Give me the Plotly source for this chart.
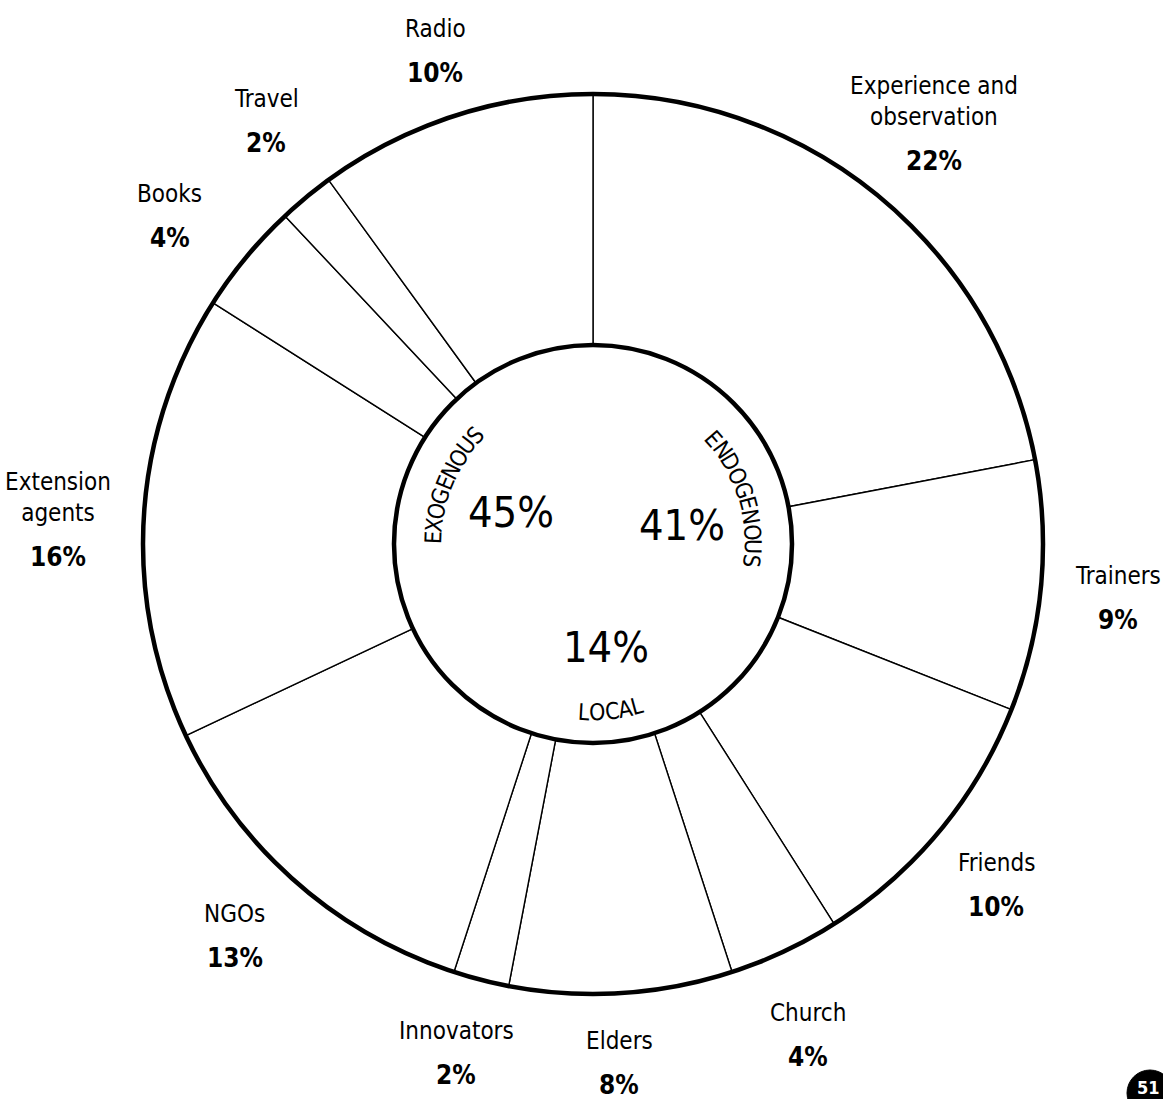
import math
import plotly.graph_objects as go

# ---------------- data ----------------
sources = ["Experience and<br>observation", "Trainers", "Friends", "Church", "Elders",
           "Innovators", "NGOs", "Extension<br>agents", "Books", "Travel", "Radio"]
shares = [22, 9, 10, 4, 8, 2, 13, 16, 4, 2, 10]
groups = ["ENDOGENOUS", "LOCAL", "EXOGENOUS"]
group_shares = [41, 14, 45]

# ---------------- layout geometry (pixels) ----------------
W, H = 1163, 1099
CX, CY = 593, 544          # pie centre
R = 450                    # outer radius
R_IN = 199                 # hole radius
LABEL_R = 530              # distance of outside labels
INNER_PCT_R = 95           # distance of group percentages
FONT = "DejaVu Sans Condensed, Liberation Sans Narrow, Arial Narrow, sans-serif"

# small hand-placement nudges of the outside labels (pixels, like the printed original)
label_nudge = {
    "Radio": (6, 11), "Experience and<br>observation": (3, 3), "Trainers": (-3, 4),
    "Friends": (-5, 3), "Church": (-11, 11), "Elders": (-7, -10), "Innovators": (-5, -4),
    "NGOs": (-8, -6), "Extension<br>agents": (-6, 24), "Books": (-15, 10), "Travel": (11, -15),
}
group_nudge = {"EXOGENOUS": (12, -17), "ENDOGENOUS": (-2, 8), "LOCAL": (1, 9)}


def px_to_paper(x, y):
    return x / W, 1 - y / H


def polar(r, ang):
    a = math.radians(ang)
    return CX + r * math.sin(a), CY - r * math.cos(a)


fig = go.Figure()
fig.add_trace(go.Pie(
    labels=[s.replace("<br>", " ") for s in sources],
    values=shares,
    sort=False,
    direction="clockwise",
    rotation=0,
    hole=R_IN / R,
    marker=dict(colors=["white"] * len(shares), line=dict(color="black", width=1.4)),
    textinfo="none",
    hoverinfo="label+percent",
    showlegend=False,
    domain=dict(x=[(CX - R) / W, (CX + R) / W], y=[1 - (CY + R) / H, 1 - (CY - R) / H]),
))

annotations = []
shapes = []

# thick outer and inner rings
for rad in (R, R_IN):
    x0, y0 = px_to_paper(CX - rad, CY + rad)
    x1, y1 = px_to_paper(CX + rad, CY - rad)
    shapes.append(dict(type="circle", xref="paper", yref="paper", x0=x0, y0=y0, x1=x1, y1=y1,
                       line=dict(color="black", width=4.5), fillcolor="rgba(0,0,0,0)"))

# outside labels
total = sum(shares)
cum = 0
for name, v in zip(sources, shares):
    mid = (cum + v / 2) / total * 360
    cum += v
    px, py = polar(LABEL_R, mid)
    dx, dy = label_nudge.get(name, (0, 0))
    x, y = px_to_paper(px + dx, py + dy)
    annotations.append(dict(x=x, y=y, xref="paper", yref="paper", text=name, showarrow=False,
                            xanchor="center", yanchor="bottom", yshift=6,
                            font=dict(family=FONT, size=24, color="black")))
    annotations.append(dict(x=x, y=y, xref="paper", yref="paper", text=f"<b>{v}%</b>",
                            showarrow=False, xanchor="center", yanchor="top", yshift=-5,
                            font=dict(family=FONT, size=26, color="black")))

# group percentages in the hole
gcum = 0
for g, v in zip(groups, group_shares):
    mid = (gcum + v / 2) / total * 360
    gcum += v
    px, py = polar(INNER_PCT_R, mid)
    dx, dy = group_nudge[g]
    x, y = px_to_paper(px + dx, py + dy)
    annotations.append(dict(x=x, y=y, xref="paper", yref="paper", text=f"{v}%", showarrow=False,
                            xanchor="center", yanchor="middle",
                            font=dict(family=FONT, size=43, color="black")))

# curved group names (letter by letter along the hole edge)
CHAR_W = {"E": .632, "X": .685, "O": .787, "G": .775, "N": .748, "U": .732, "S": .635,
          "D": .770, "L": .557, "C": .698, "A": .684}
curve_style = {
    # name: (centre angle, radius, arc length px, direction)
    "EXOGENOUS": (292.5, 160, 126, 1),
    "ENDOGENOUS": (72.4, 160, 144, 1),
    "LOCAL": (174.0, 168, 65, -1),
}
for g in groups:
    ca, rr, arc, d = curve_style[g]
    widths = [CHAR_W.get(c, .65) for c in g]
    scale = arc / sum(widths)
    s = 0
    for c, w in zip(g, widths):
        off = (s + w / 2) * scale - arc / 2
        s += w
        ang = ca + d * math.degrees(off / rr)
        px, py = polar(rr, ang)
        x, y = px_to_paper(px, py)
        rot = ang if d == 1 else ang - 180
        rot = ((rot + 180) % 360) - 180
        annotations.append(dict(x=x, y=y, xref="paper", yref="paper", text=c, showarrow=False,
                                xanchor="center", yanchor="middle", textangle=rot,
                                font=dict(family=FONT, size=23, color="black")))

# page number badge
bx0, by0 = px_to_paper(1127, 1116)
bx1, by1 = px_to_paper(1173, 1070)
shapes.append(dict(type="circle", xref="paper", yref="paper", x0=bx0, y0=by0, x1=bx1, y1=by1,
                   fillcolor="black", line=dict(color="black", width=1)))
nx, ny = px_to_paper(1148, 1087)
annotations.append(dict(x=nx, y=ny, xref="paper", yref="paper", text="<b>51</b>", showarrow=False,
                        xanchor="center", yanchor="middle",
                        font=dict(family=FONT, size=18, color="white")))

fig.update_layout(
    width=W, height=H,
    margin=dict(l=0, r=0, t=0, b=0),
    paper_bgcolor="white", plot_bgcolor="white",
    annotations=annotations, shapes=shapes,
)

fig.write_html("out.html")
